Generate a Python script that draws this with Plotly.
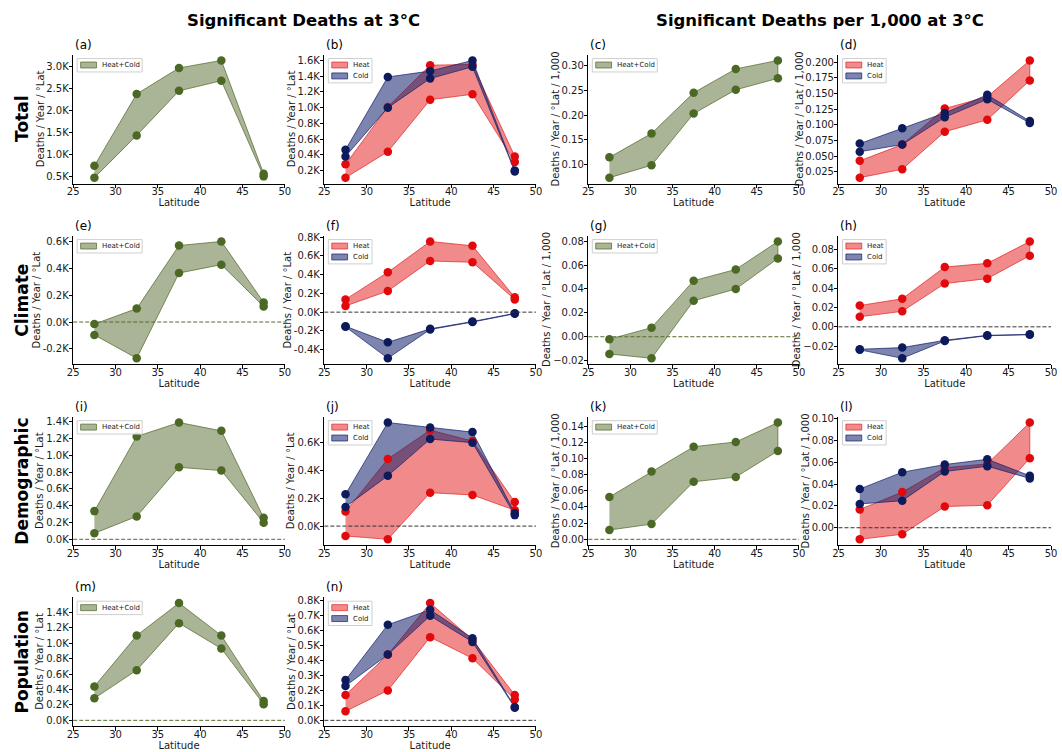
import plotly.graph_objects as go

W, H = 1062, 752

latitudes = [27.5, 32.5, 37.5, 42.5, 47.5]
lat_ticks = [25, 30, 35, 40, 45, 50]

# ---- Significant deaths (thousands / year / °lat) ----
a_both_hi = [0.75, 2.38, 2.97, 3.14, 0.57]
a_both_lo = [0.48, 1.44, 2.45, 2.68, 0.51]
b_heat_hi = [0.28, 1.01, 1.54, 1.55, 0.38]
b_heat_lo = [0.11, 0.44, 1.10, 1.17, 0.31]
b_cold_hi = [0.465, 1.39, 1.465, 1.60, 0.20]
b_cold_lo = [0.38, 1.00, 1.37, 1.52, 0.19]

e_both_hi = [-0.015, 0.10, 0.57, 0.60, 0.146]
e_both_lo = [-0.096, -0.27, 0.365, 0.427, 0.116]
f_heat_hi = [0.136, 0.426, 0.754, 0.708, 0.158]
f_heat_lo = [0.066, 0.225, 0.546, 0.532, 0.136]
f_cold_hi = [-0.150, -0.322, -0.178, -0.100, -0.013]
f_cold_lo = [-0.157, -0.492, -0.185, -0.106, -0.017]

i_both_hi = [0.336, 1.226, 1.392, 1.293, 0.257]
i_both_lo = [0.071, 0.273, 0.858, 0.819, 0.198]
j_heat_hi = [0.105, 0.483, 0.690, 0.612, 0.174]
j_heat_lo = [-0.071, -0.095, 0.240, 0.224, 0.114]
j_cold_hi = [0.229, 0.745, 0.710, 0.676, 0.093]
j_cold_lo = [0.138, 0.362, 0.626, 0.600, 0.079]

m_both_hi = [0.44, 1.10, 1.52, 1.10, 0.25]
m_both_lo = [0.285, 0.65, 1.26, 0.93, 0.21]
n_heat_hi = [0.17, 0.44, 0.785, 0.54, 0.17]
n_heat_lo = [0.06, 0.20, 0.557, 0.415, 0.14]
n_cold_hi = [0.27, 0.64, 0.74, 0.55, 0.09]
n_cold_lo = [0.23, 0.44, 0.70, 0.525, 0.085]

# ---- Significant deaths per 1,000 ----
c_both_hi = [0.115, 0.163, 0.245, 0.293, 0.310]
c_both_lo = [0.074, 0.099, 0.203, 0.251, 0.274]
d_heat_hi = [0.0425, 0.0685, 0.126, 0.145, 0.203]
d_heat_lo = [0.0155, 0.029, 0.089, 0.108, 0.171]
d_cold_hi = [0.070, 0.0945, 0.119, 0.148, 0.106]
d_cold_lo = [0.057, 0.0685, 0.112, 0.141, 0.103]

g_both_hi = [-0.002, 0.0076, 0.0469, 0.0563, 0.0797]
g_both_lo = [-0.0144, -0.018, 0.0301, 0.0399, 0.0655]
h_heat_hi = [0.022, 0.029, 0.0618, 0.0656, 0.0882]
h_heat_lo = [0.0104, 0.016, 0.0447, 0.0498, 0.0735]
h_cold_hi = [-0.0232, -0.0215, -0.0139, -0.0088, -0.0078]
h_cold_lo = [-0.0238, -0.0325, -0.0146, -0.0092, -0.0082]

k_both_hi = [0.0524, 0.0839, 0.1146, 0.1204, 0.1445]
k_both_lo = [0.0115, 0.0188, 0.0712, 0.0770, 0.1093]
l_heat_hi = [0.0167, 0.0327, 0.0550, 0.0585, 0.0964]
l_heat_lo = [-0.0106, -0.0060, 0.0194, 0.0206, 0.0636]
l_cold_hi = [0.0355, 0.0509, 0.0579, 0.0627, 0.0476]
l_cold_lo = [0.0218, 0.0248, 0.0515, 0.0564, 0.0452]

# ---- tick values ----
a_ticks = [0.5, 1.0, 1.5, 2.0, 2.5, 3.0]
b_ticks = [0.2, 0.4, 0.6, 0.8, 1.0, 1.2, 1.4, 1.6]
c_ticks = [0.10, 0.15, 0.20, 0.25, 0.30]
d_ticks = [0.025, 0.050, 0.075, 0.100, 0.125, 0.150, 0.175, 0.200]
e_ticks = [-0.2, 0.0, 0.2, 0.4, 0.6]
f_ticks = [-0.4, -0.2, 0.0, 0.2, 0.4, 0.6, 0.8]
g_ticks = [-0.02, 0.00, 0.02, 0.04, 0.06, 0.08]
h_ticks = [-0.04, -0.02, 0.00, 0.02, 0.04, 0.06, 0.08]
i_ticks = [0.0, 0.2, 0.4, 0.6, 0.8, 1.0, 1.2, 1.4]
j_ticks = [0.0, 0.2, 0.4, 0.6]
k_ticks = [0.00, 0.02, 0.04, 0.06, 0.08, 0.10, 0.12, 0.14]
l_ticks = [0.00, 0.02, 0.04, 0.06, 0.08, 0.10]
m_ticks = [0.0, 0.2, 0.4, 0.6, 0.8, 1.0, 1.2, 1.4]
n_ticks = [0.0, 0.1, 0.2, 0.3, 0.4, 0.5, 0.6, 0.7, 0.8]

row_labels = ["Total", "Climate", "Demographic", "Population"]
col_titles = ["Significant Deaths at 3°C", "Significant Deaths per 1,000 at 3°C"]
ylabel_abs = "Deaths / Year / °Lat"
ylabel_rel = "Deaths / Year / °Lat / 1,000"

HC = "Heat+Cold"
panels = [
    ("(a)", 0, 0, [(HC, a_both_hi, a_both_lo, "both")], a_ticks, "K", False),
    ("(b)", 0, 1, [("Heat", b_heat_hi, b_heat_lo, "heat"), ("Cold", b_cold_hi, b_cold_lo, "cold")], b_ticks, "K", False),
    ("(c)", 0, 2, [(HC, c_both_hi, c_both_lo, "both")], c_ticks, "2", False),
    ("(d)", 0, 3, [("Heat", d_heat_hi, d_heat_lo, "heat"), ("Cold", d_cold_hi, d_cold_lo, "cold")], d_ticks, "3", False),
    ("(e)", 1, 0, [(HC, e_both_hi, e_both_lo, "both")], e_ticks, "K", True),
    ("(f)", 1, 1, [("Heat", f_heat_hi, f_heat_lo, "heat"), ("Cold", f_cold_hi, f_cold_lo, "cold")], f_ticks, "K", True),
    ("(g)", 1, 2, [(HC, g_both_hi, g_both_lo, "both")], g_ticks, "2", True),
    ("(h)", 1, 3, [("Heat", h_heat_hi, h_heat_lo, "heat"), ("Cold", h_cold_hi, h_cold_lo, "cold")], h_ticks, "2", True),
    ("(i)", 2, 0, [(HC, i_both_hi, i_both_lo, "both")], i_ticks, "K", True),
    ("(j)", 2, 1, [("Heat", j_heat_hi, j_heat_lo, "heat"), ("Cold", j_cold_hi, j_cold_lo, "cold")], j_ticks, "K", True),
    ("(k)", 2, 2, [(HC, k_both_hi, k_both_lo, "both")], k_ticks, "2", True),
    ("(l)", 2, 3, [("Heat", l_heat_hi, l_heat_lo, "heat"), ("Cold", l_cold_hi, l_cold_lo, "cold")], l_ticks, "2", True),
    ("(m)", 3, 0, [(HC, m_both_hi, m_both_lo, "both")], m_ticks, "K", True),
    ("(n)", 3, 1, [("Heat", n_heat_hi, n_heat_lo, "heat"), ("Cold", n_cold_hi, n_cold_lo, "cold")], n_ticks, "K", True),
]

styles = {
    "both": dict(marker="#4b6824", fill="rgba(85,107,47,0.50)", line="rgba(85,107,47,0.75)", zero="#556b2f"),
    "heat": dict(marker="#e2090c", fill="rgba(228,22,22,0.50)", line="rgba(228,22,22,0.65)", zero="#333333"),
    "cold": dict(marker="#0d1a5c", fill="rgba(18,32,108,0.55)", line="rgba(18,32,108,0.70)", zero="#333333"),
}

# layout geometry in pixels
col_x = [(68, 282), (322, 536), (589, 802), (842, 1057)]
row_y = [(51, 181), (233.5, 363), (416, 545.5), (598, 728)]

FONT = "DejaVu Sans"
TXT = "#1a1a1a"
CHAR_W = {"0": .636, "1": .636, "2": .636, "3": .636, "4": .636, "5": .636, "6": .636,
          "7": .636, "8": .636, "9": .636, ".": .318, "K": .656, "-": .361, "\u2212": .838}

fig = go.Figure()
annotations = []
shapes = []
layout = {}


def fmt(v, kind):
    if kind == "K":
        return f"{v:.1f}K"
    s = f"{v:.{int(kind)}f}"
    return s.replace("-", "\u2212")


def text_w(s, size):
    return sum(CHAR_W.get(ch, .6) for ch in s) * size


def px(xp, yp):
    return xp / W, 1 - yp / H


for idx, (tag, r, c, series, ticks, kind, zero) in enumerate(panels):
    n = idx + 1
    sfx = "" if n == 1 else str(n)
    xref, yref = f"x{sfx}", f"y{sfx}"
    x0p, x1p = col_x[c]
    y0p, y1p = row_y[r]
    xdom = [x0p / W, x1p / W]
    ydom = [1 - y1p / H, 1 - y0p / H]

    vals = []
    for _, hi, lo, _k in series:
        vals += hi + lo
    if zero:
        vals.append(0.0)
    vmin, vmax = min(vals), max(vals)
    pad = 0.05 * (vmax - vmin)

    # polygons (fill_between)
    for name, hi, lo, key in series:
        st = styles[key]
        fig.add_trace(go.Scatter(
            x=latitudes + latitudes[::-1], y=hi + lo[::-1],
            mode="lines", fill="toself", fillcolor=st["fill"],
            line=dict(color=st["line"], width=1), name=name,
            xaxis=xref, yaxis=yref, showlegend=False, hoverinfo="skip"))
    # markers
    for name, hi, lo, key in series:
        st = styles[key]
        fig.add_trace(go.Scatter(
            x=latitudes + latitudes, y=hi + lo, mode="markers",
            marker=dict(color=st["marker"], size=8.5, line=dict(width=0)),
            xaxis=xref, yaxis=yref, showlegend=False))

    if zero:
        zc = styles[series[0][3]]["zero"]
        shapes.append(dict(type="line", xref=f"{xref} domain", x0=0, x1=1,
                           yref=yref, y0=0, y1=0, layer="above",
                           line=dict(color=zc, width=1, dash="4px,2px")))

    # legend (drawn in pixel space, matplotlib-like)
    bl, bt = x0p + 4, y0p + 4
    maxlen = max(len(s[0]) for s in series)
    bw = 27 + 4.3 * maxlen
    bh = 2.5 + 11 * len(series)
    lx0, ly0 = px(bl, bt)
    lx1, ly1 = px(bl + bw, bt + bh)
    shapes.append(dict(type="rect", xref="paper", yref="paper", x0=lx0, x1=lx1, y0=ly1, y1=ly0,
                       fillcolor="rgba(255,255,255,0.85)", line=dict(color="#cfcfcf", width=1),
                       layer="above"))
    for k, (name, hi, lo, key) in enumerate(series):
        st = styles[key]
        yc = bt + 6.5 + 11 * k
        p0 = px(bl + 3.5, yc - 3)
        p1 = px(bl + 19.5, yc + 3)
        shapes.append(dict(type="rect", xref="paper", yref="paper", x0=p0[0], x1=p1[0],
                           y0=p1[1], y1=p0[1], fillcolor=st["fill"],
                           line=dict(color=st["line"], width=1), layer="above"))
        tx, ty = px(bl + 23, yc)
        annotations.append(dict(text=name, xref="paper", yref="paper", x=tx, y=ty,
                                xanchor="left", yanchor="middle", showarrow=False,
                                font=dict(family=FONT, size=7, color=TXT)))

    ticktext = [fmt(t, kind) for t in ticks]
    axcommon = dict(showline=True, linecolor="black", linewidth=1, ticks="outside",
                    ticklen=3.5, tickwidth=1, tickcolor="black", showgrid=False,
                    zeroline=False, fixedrange=True,
                    tickfont=dict(family=FONT, size=10, color=TXT))
    layout[f"xaxis{sfx}"] = dict(axcommon, domain=xdom, anchor=yref, range=[25, 50],
                                 tickvals=lat_ticks, ticktext=[str(t) for t in lat_ticks],
                                 ticklabelstandoff=-5,
                                 title=dict(text="Latitude", standoff=0,
                                            font=dict(family=FONT, size=10, color=TXT)))
    layout[f"yaxis{sfx}"] = dict(axcommon, domain=ydom, anchor=xref,
                                 range=[vmin - pad, vmax + pad],
                                 ticklabelstandoff=-2,
                                 tickvals=ticks, ticktext=ticktext)

    # y-axis label placed like matplotlib (just left of the widest tick label)
    ylabel = ylabel_abs if c < 2 else ylabel_rel
    maxw = max(text_w(s, 10) for s in ticktext)
    ylx = x0p - 4 - maxw - 7
    yx, yy = px(ylx, (y0p + y1p) / 2)
    annotations.append(dict(text=ylabel, xref="paper", yref="paper", x=yx, y=yy,
                            xanchor="center", yanchor="middle", textangle=-90,
                            showarrow=False, font=dict(family=FONT, size=10, color=TXT)))

    ax, ay = px(x0p, y0p - 1)
    annotations.append(dict(text=tag, xref="paper", yref="paper", x=ax, y=ay,
                            xanchor="left", yanchor="bottom",
                            showarrow=False, font=dict(family=FONT, size=12, color="black")))

for r, lab in enumerate(row_labels):
    yc = (row_y[r][0] + row_y[r][1]) / 2
    annotations.append(dict(text=f"<b>{lab}</b>", xref="paper", yref="paper",
                            x=16 / W, y=1 - yc / H, xanchor="center", yanchor="middle",
                            textangle=-90, showarrow=False,
                            font=dict(family=FONT, size=17, color="black")))

title_x = [301, 823]
for t, xc in zip(col_titles, title_x):
    annotations.append(dict(text=f"<b>{t}</b>", xref="paper", yref="paper",
                            x=xc / W, y=1 - 17 / H, xanchor="center", yanchor="middle",
                            showarrow=False, font=dict(family=FONT, size=16.5, color="black")))

fig.update_layout(**layout)
fig.update_layout(width=W, height=H, margin=dict(l=0, r=0, t=0, b=0),
                  paper_bgcolor="white", plot_bgcolor="white", showlegend=False,
                  font=dict(family=FONT, size=10, color=TXT),
                  annotations=annotations, shapes=shapes, hovermode=False)

fig.write_html("out.html", config={"displayModeBar": False})
